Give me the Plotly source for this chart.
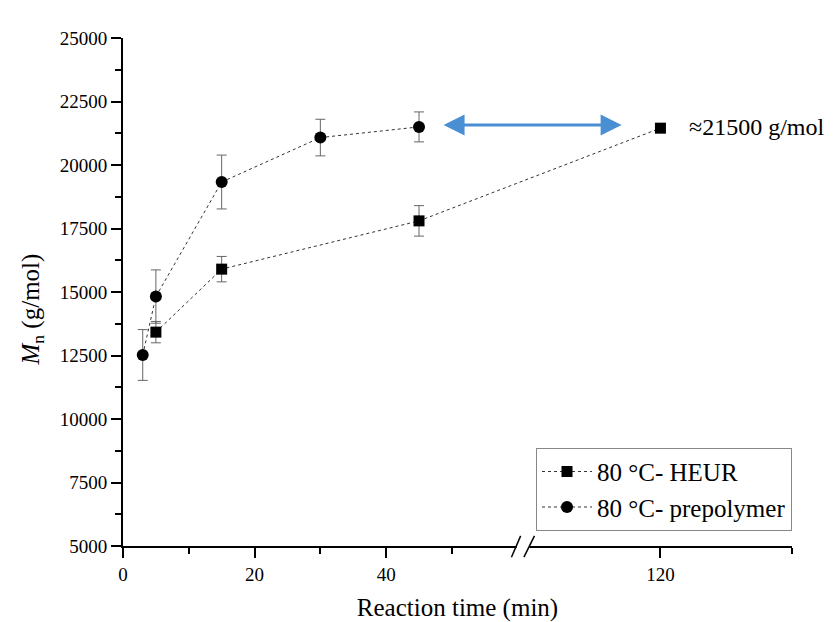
import plotly.graph_objects as go

# ---------------- data ----------------
heur_time = [5, 15, 45, 120]
heur_mn = [13420, 15900, 17800, 21450]
heur_err = [420, 500, 600, 0]

pre_time = [3, 5, 15, 30, 45]
pre_mn = [12520, 14820, 19330, 21080, 21500]
pre_err = [1000, 1050, 1060, 720, 590]

x_major_vals = [0, 20, 40, 120]
x_minor_vals = [10, 30, 50, 140]
y_tick_vals = [5000, 7500, 10000, 12500, 15000, 17500, 20000, 22500, 25000]

# ---------------- broken x-axis scale (0-60 | 100-140) ----------------
SEG1_END = 60
SEG2_START = 100
SEG2_END = 140
GAP = 1.7


def brk(t):
    if t <= SEG1_END:
        return t
    return t - SEG2_START + SEG1_END + GAP


X_MAX = brk(SEG2_END)
BREAK_MID = SEG1_END + GAP / 2

FONT = "Liberation Serif"

fig = go.Figure()

fig.add_trace(go.Scatter(
    x=[brk(t) for t in heur_time], y=heur_mn,
    mode="lines+markers", name="80 °C- HEUR",
    line=dict(color="#333333", width=1, dash="3px,3px"),
    marker=dict(symbol="square", size=11, color="black"),
    error_y=dict(type="data", array=heur_err, visible=True,
                 color="#666666", thickness=1, width=5),
    cliponaxis=False,
))

fig.add_trace(go.Scatter(
    x=[brk(t) for t in pre_time], y=pre_mn,
    mode="lines+markers", name="80 °C- prepolymer",
    line=dict(color="#333333", width=1, dash="3px,3px"),
    marker=dict(symbol="circle", size=12, color="black"),
    error_y=dict(type="data", array=pre_err, visible=True,
                 color="#666666", thickness=1, width=5),
    cliponaxis=False,
))

# axis break symbol
fig.add_shape(type="rect", xref="x", yref="paper",
              x0=BREAK_MID - 1.0, x1=BREAK_MID + 0.9, y0=-0.012, y1=0.012,
              fillcolor="white", line=dict(width=0), layer="above")
fig.add_shape(type="line", xref="x", yref="paper",
              x0=BREAK_MID - 1.8, x1=BREAK_MID - 0.4, y0=-0.022, y1=0.02,
              line=dict(color="black", width=1.5), layer="above")
fig.add_shape(type="line", xref="x", yref="paper",
              x0=BREAK_MID + 0.1, x1=BREAK_MID + 1.7, y0=-0.022, y1=0.02,
              line=dict(color="black", width=1.5), layer="above")

# double-headed blue arrow
fig.add_annotation(x=75.8, y=21570, ax=48.5, ay=21570, axref="x", ayref="y",
                   xref="x", yref="y", text="", showarrow=True,
                   arrowside="end+start", arrowhead=2, arrowsize=1.4,
                   arrowwidth=3, arrowcolor="#4a8fd4", standoff=0, startstandoff=0)

fig.add_annotation(x=85.8, y=21500, xref="x", yref="y", text="≈21500 g/mol",
                   showarrow=False, xanchor="left", yanchor="middle",
                   font=dict(family=FONT, size=24, color="black"))

# y-axis title
fig.add_annotation(x=-0.135, y=0.465, xref="paper", yref="paper",
                   text="<i>M</i><sub>n</sub> (g/mol)", textangle=-90,
                   showarrow=False, xanchor="center", yanchor="middle",
                   font=dict(family=FONT, size=25, color="black"))

fig.update_layout(
    width=839, height=622,
    margin=dict(l=123, r=47, t=38, b=76, autoexpand=False),
    paper_bgcolor="white", plot_bgcolor="white",
    font=dict(family=FONT, size=19, color="black"),
    showlegend=True,
    legend=dict(x=1.0, xanchor="right", y=0.03, yanchor="bottom",
                bgcolor="white", bordercolor="#888888", borderwidth=1,
                font=dict(family=FONT, size=25, color="black"),
                itemwidth=50, tracegroupgap=0),
    xaxis=dict(
        range=[0, X_MAX], showgrid=False, zeroline=False, automargin=False,
        showline=True, linecolor="black", linewidth=2,
        tickmode="array", tickvals=[brk(v) for v in x_major_vals],
        ticktext=[str(v) for v in x_major_vals],
        ticks="outside", ticklen=10, tickwidth=2, tickcolor="black",
        tickfont=dict(family=FONT, size=19, color="black"),
        minor=dict(tickmode="array", tickvals=[brk(v) for v in x_minor_vals],
                   ticks="outside", ticklen=6, tickwidth=2, tickcolor="black"),
        title=dict(text="Reaction time (min)", standoff=20,
                   font=dict(family=FONT, size=25, color="black")),
    ),
    yaxis=dict(
        range=[5000, 25000], showgrid=False, zeroline=False, automargin=False,
        showline=True, linecolor="black", linewidth=2,
        tickmode="array", tickvals=y_tick_vals,
        ticktext=[str(v) for v in y_tick_vals],
        ticks="outside", ticklen=10, tickwidth=2, tickcolor="black",
        tickfont=dict(family=FONT, size=19, color="black"),
        minor=dict(dtick=1250, tick0=5000, ticks="outside", ticklen=6,
                   tickwidth=2, tickcolor="black"),
    ),
)

fig.write_html("out.html")
